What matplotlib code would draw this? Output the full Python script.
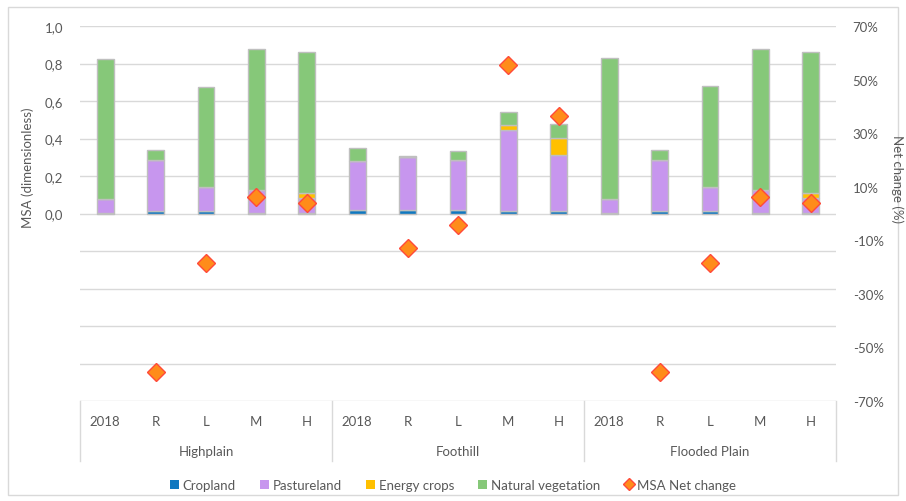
import numpy as np
import matplotlib
matplotlib.use("Agg")
import matplotlib.pyplot as plt
from matplotlib.lines import Line2D
from matplotlib.patches import Patch, Rectangle

plt.rcParams["font.family"] = ["Lato", "DejaVu Sans"]

# Datos
groups = ["Highplain", "Foothill", "Flooded Plain"]
scenarios = ["2018", "R", "L", "M", "H"]

cropland = [0.002, 0.015, 0.015, 0.003, 0.003,
            0.020, 0.020, 0.020, 0.012, 0.012,
            0.002, 0.015, 0.015, 0.003, 0.003]
pastureland = [0.073, 0.268, 0.124, 0.121, 0.082,
               0.262, 0.280, 0.267, 0.436, 0.302,
               0.073, 0.268, 0.124, 0.120, 0.082]
energy_crops = [0, 0, 0, 0, 0.022,
                0, 0, 0, 0.022, 0.091,
                0, 0, 0, 0, 0.022]
natural_veg = [0.750, 0.057, 0.537, 0.753, 0.755,
               0.066, 0.005, 0.049, 0.070, 0.071,
               0.752, 0.057, 0.539, 0.757, 0.755]
net_change = [np.nan, -59.0, -18.5, 6.3, 4.0,
              np.nan, -12.9, -4.2, 55.5, 36.4,
              np.nan, -59.3, -18.5, 6.3, 4.0]

series = [("Cropland", cropland, "#0F78C0"),
          ("Pastureland", pastureland, "#C796EE"),
          ("Energy crops", energy_crops, "#FFC000"),
          ("Natural vegetation", natural_veg, "#86C879")]

txt = "#595959"
grid = "#D9D9D9"

fig = plt.figure(figsize=(9.06, 5.02), dpi=100)
fig.patches.append(Rectangle((0.009, 0.012), 0.982, 0.972, transform=fig.transFigure,
                             fill=False, edgecolor=grid, lw=1))
ax = fig.add_axes([80 / 906, 1 - 402 / 502, 756 / 906, 375 / 502])

x = np.arange(len(cropland))
bottom = np.zeros(len(x))
for name, vals, col in series:
    ax.bar(x, vals, 0.33, bottom=bottom, color=col, edgecolor="#BFBFBF", lw=1, zorder=3)
    bottom += np.array(vals)

ax.set_xlim(-0.5, len(x) - 0.5)
ax.set_ylim(-1, 1)
yt = np.round(np.linspace(-1, 1, 11), 1) + 0.0
ax.set_yticks(yt)
ax.set_yticklabels([("%.1f" % abs(v)).replace(".", ",") if v > -0.05 else "" for v in yt])
ax.grid(axis="y", color=grid, lw=1, zorder=0)
ax.set_xticks([])
ax.tick_params(axis="y", length=0, pad=12, labelcolor=txt, labelsize=9.5)
for s in ax.spines.values():
    s.set_visible(False)

# Eje secundario
ax2 = ax.twinx()
ax2.plot(x, np.array(net_change) / 100, "D", ms=9, color="#FF8C1A", mec="#FF4A3A",
         mew=1, zorder=5, clip_on=False)
ax2.set_ylim(-0.7, 0.7)
rt = np.round(np.arange(-0.7, 0.71, 0.2), 1)
ax2.set_yticks(rt)
ax2.set_yticklabels(["%d%%" % round(v * 100) for v in rt])
ax2.tick_params(axis="y", length=0, pad=12, labelcolor=txt, labelsize=9.5)
for s in ax2.spines.values():
    s.set_visible(False)

# Categorías del eje x
tr = ax.get_xaxis_transform()
for i in range(len(x)):
    ax.text(i, -20 / 375, scenarios[i % 5], transform=tr, ha="center", va="center",
            color=txt, fontsize=9.5)
for g, name in enumerate(groups):
    ax.text(g * 5 + 2, -50 / 375, name, transform=tr, ha="center", va="center",
            color=txt, fontsize=9.5)
for xb in [-0.5, 4.5, 9.5, 14.5]:
    ax.plot([xb, xb], [0, -60 / 375], transform=tr, color=grid, lw=1, clip_on=False)

fig.text(28 / 906, 1 - 168 / 502, "MSA (dimensionless)", rotation=90, ha="center",
         va="center", color=txt, fontsize=9.5)
fig.text(897 / 906, 1 - 179 / 502, "Net change (%)", rotation=270, ha="center",
         va="center", color=txt, fontsize=9.5)

handles = [Patch(facecolor=c, edgecolor="none", label=n) for n, _, c in series]
handles.append(Line2D([], [], marker="D", ls="none", ms=6, color="#FF8C1A",
                      mec="#FF4A3A", label="MSA Net change"))
fig.legend(handles=handles, loc="center", bbox_to_anchor=(453 / 906, 1 - 486 / 502),
           ncol=5, frameon=False, fontsize=9.5, labelcolor=txt, handlelength=0.7,
           handleheight=0.7, handletextpad=0.3, columnspacing=1.8)

plt.savefig("out.png", dpi=100)
